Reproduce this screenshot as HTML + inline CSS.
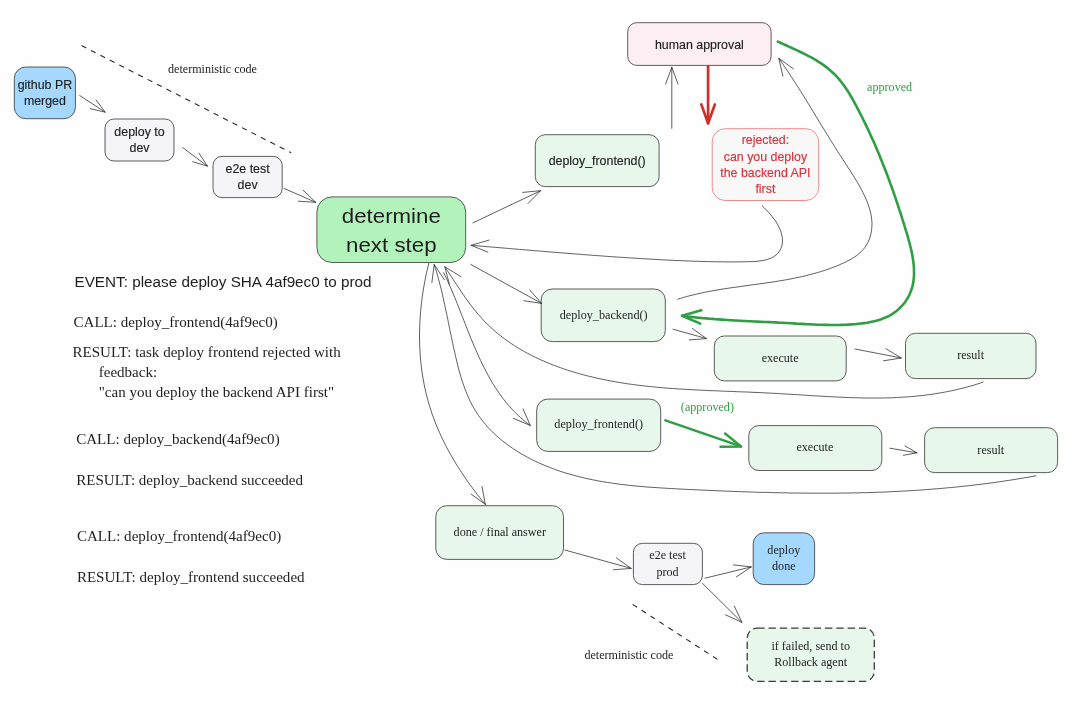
<!DOCTYPE html>
<html><head><meta charset="utf-8"><title>diagram</title>
<style>
html,body{margin:0;padding:0;background:#fefefe;}
body{width:1074px;height:707px;overflow:hidden;font-family:"Liberation Sans",sans-serif;}
svg{display:block;will-change:transform}
</style></head>
<body>
<svg width="1074" height="707" viewBox="0 0 1074 707">
<rect width="1074" height="707" fill="#fefefe"/>
<path d="M81.5 45.6 L291.2 152.8" fill="none" stroke="#2a2a2a" stroke-width="1.1" stroke-linecap="butt" stroke-linejoin="round" stroke-dasharray="5.3 5.3"/>
<path d="M632.6 604.4 L717.8 659.6" fill="none" stroke="#2a2a2a" stroke-width="1.1" stroke-linecap="butt" stroke-linejoin="round" stroke-dasharray="5.3 5.35"/>
<rect x="14.3" y="67" width="61.1" height="51.7" rx="11.5" ry="11.5" fill="#a5d8ff" stroke="#2a2a2a" stroke-width="0.75"/>
<rect x="105" y="119" width="69.0" height="42.0" rx="9" ry="9" fill="#f5f5f7" stroke="#2a2a2a" stroke-width="0.75"/>
<rect x="213" y="156.4" width="69.2" height="41.2" rx="9" ry="9" fill="#f5f5f7" stroke="#2a2a2a" stroke-width="0.75"/>
<rect x="316.9" y="196.9" width="148.8" height="65.6" rx="15" ry="15" fill="#b2f2bb" stroke="#2a2a2a" stroke-width="0.75"/>
<rect x="627.7" y="22.7" width="143.4" height="42.7" rx="9" ry="9" fill="#fdeef4" stroke="#2a2a2a" stroke-width="0.75"/>
<rect x="535.3" y="134.7" width="123.8" height="51.9" rx="10" ry="10" fill="#e7f7eb" stroke="#2a2a2a" stroke-width="0.75"/>
<rect x="712.2" y="128.7" width="106.5" height="71.8" rx="13" ry="13" fill="#f8f8f9" stroke="#e66a6a" stroke-width="0.75"/>
<rect x="541.2" y="289" width="124.1" height="52.6" rx="11" ry="11" fill="#e7f7eb" stroke="#2a2a2a" stroke-width="0.75"/>
<rect x="714.3" y="336" width="131.9" height="44.9" rx="10" ry="10" fill="#e7f7eb" stroke="#2a2a2a" stroke-width="0.75"/>
<rect x="905.5" y="333.3" width="130.5" height="45.3" rx="10" ry="10" fill="#e7f7eb" stroke="#2a2a2a" stroke-width="0.75"/>
<rect x="536.7" y="399.1" width="124.0" height="52.3" rx="11" ry="11" fill="#e7f7eb" stroke="#2a2a2a" stroke-width="0.75"/>
<rect x="748.8" y="425.6" width="133.0" height="44.9" rx="10" ry="10" fill="#e7f7eb" stroke="#2a2a2a" stroke-width="0.75"/>
<rect x="924.6" y="427.7" width="133.0" height="44.9" rx="10" ry="10" fill="#e7f7eb" stroke="#2a2a2a" stroke-width="0.75"/>
<rect x="435.8" y="505.7" width="127.7" height="53.7" rx="11" ry="11" fill="#e7f7eb" stroke="#2a2a2a" stroke-width="0.75"/>
<rect x="633.4" y="543.3" width="69.0" height="41.3" rx="9" ry="9" fill="#f5f5f7" stroke="#2a2a2a" stroke-width="0.75"/>
<rect x="753.2" y="532.8" width="61.4" height="51.8" rx="11" ry="11" fill="#a5d8ff" stroke="#2a2a2a" stroke-width="0.75"/>
<rect x="747.2" y="628.1" width="127.1" height="53.2" rx="10" ry="10" fill="#e7f7eb" stroke="#3c3c3c" stroke-width="1.3" stroke-dasharray="7.4 3.9"/>
<path d="M79.7 95.5 L105.2 112.2" fill="none" stroke="#2a2a2a" stroke-width="0.75" stroke-linecap="round" stroke-linejoin="round"/>
<path d="M90.4 108.7 L105.2 112.2 L96.1 100.0" fill="none" stroke="#2a2a2a" stroke-width="0.75" stroke-linecap="round" stroke-linejoin="round"/>
<path d="M182.7 147.6 L207.5 166.2" fill="none" stroke="#2a2a2a" stroke-width="0.75" stroke-linecap="round" stroke-linejoin="round"/>
<path d="M192.7 161.7 L207.5 166.2 L199.0 153.2" fill="none" stroke="#2a2a2a" stroke-width="0.75" stroke-linecap="round" stroke-linejoin="round"/>
<path d="M284.0 188.4 L315.7 202.3" fill="none" stroke="#2a2a2a" stroke-width="0.75" stroke-linecap="round" stroke-linejoin="round"/>
<path d="M298.4 201.2 L315.7 202.3 L303.2 190.3" fill="none" stroke="#2a2a2a" stroke-width="0.75" stroke-linecap="round" stroke-linejoin="round"/>
<path d="M472.9 222.9 L540.6 190.7" fill="none" stroke="#2a2a2a" stroke-width="0.75" stroke-linecap="round" stroke-linejoin="round"/>
<path d="M528.0 203.5 L540.6 190.7 L522.7 192.4" fill="none" stroke="#2a2a2a" stroke-width="0.75" stroke-linecap="round" stroke-linejoin="round"/>
<path d="M470.8 264.5 L541.6 303.4" fill="none" stroke="#2a2a2a" stroke-width="0.75" stroke-linecap="round" stroke-linejoin="round"/>
<path d="M523.8 300.7 L541.6 303.4 L529.7 289.9" fill="none" stroke="#2a2a2a" stroke-width="0.75" stroke-linecap="round" stroke-linejoin="round"/>
<path d="M671.8 128.3 L671.8 67.2" fill="none" stroke="#2a2a2a" stroke-width="0.75" stroke-linecap="round" stroke-linejoin="round"/>
<path d="M678.0 84.1 L671.8 67.2 L665.6 84.1" fill="none" stroke="#2a2a2a" stroke-width="0.75" stroke-linecap="round" stroke-linejoin="round"/>
<path d="M673.0 329.2 L706.5 338.6" fill="none" stroke="#2a2a2a" stroke-width="0.75" stroke-linecap="round" stroke-linejoin="round"/>
<path d="M689.2 339.9 L706.5 338.6 L692.4 328.5" fill="none" stroke="#2a2a2a" stroke-width="0.75" stroke-linecap="round" stroke-linejoin="round"/>
<path d="M855.0 349.0 L901.3 358.0" fill="none" stroke="#2a2a2a" stroke-width="0.75" stroke-linecap="round" stroke-linejoin="round"/>
<path d="M883.5 360.8 L901.3 358.0 L885.9 348.7" fill="none" stroke="#2a2a2a" stroke-width="0.75" stroke-linecap="round" stroke-linejoin="round"/>
<path d="M889.8 448.2 L917.0 452.8" fill="none" stroke="#2a2a2a" stroke-width="0.75" stroke-linecap="round" stroke-linejoin="round"/>
<path d="M903.4 455.3 L917.0 452.8 L905.0 446.0" fill="none" stroke="#2a2a2a" stroke-width="0.75" stroke-linecap="round" stroke-linejoin="round"/>
<path d="M564.8 550.0 L631.2 568.4" fill="none" stroke="#2a2a2a" stroke-width="0.75" stroke-linecap="round" stroke-linejoin="round"/>
<path d="M613.3 569.8 L631.2 568.4 L616.5 558.0" fill="none" stroke="#2a2a2a" stroke-width="0.75" stroke-linecap="round" stroke-linejoin="round"/>
<path d="M705.0 578.2 L751.3 566.9" fill="none" stroke="#2a2a2a" stroke-width="0.75" stroke-linecap="round" stroke-linejoin="round"/>
<path d="M736.3 576.9 L751.3 566.9 L733.4 564.9" fill="none" stroke="#2a2a2a" stroke-width="0.75" stroke-linecap="round" stroke-linejoin="round"/>
<path d="M702.5 583.4 L742.0 622.4" fill="none" stroke="#2a2a2a" stroke-width="0.75" stroke-linecap="round" stroke-linejoin="round"/>
<path d="M725.6 614.9 L742.0 622.4 L734.3 606.1" fill="none" stroke="#2a2a2a" stroke-width="0.75" stroke-linecap="round" stroke-linejoin="round"/>
<path d="M708.1 66.3 L708.1 123.2" fill="none" stroke="#cf2f2b" stroke-width="2.7" stroke-linecap="round" stroke-linejoin="round"/>
<path d="M701.3 104.4 L708.1 123.2 L714.9 104.4" fill="none" stroke="#cf2f2b" stroke-width="2.7" stroke-linecap="round" stroke-linejoin="round"/>
<path d="M665.4 420.4 L741.0 446.4" fill="none" stroke="#2f9e44" stroke-width="2.5" stroke-linecap="round" stroke-linejoin="round"/>
<path d="M720.5 446.8 L741.0 446.4 L725.1 433.5" fill="none" stroke="#2f9e44" stroke-width="2.5" stroke-linecap="round" stroke-linejoin="round"/>
<path d="M762.3 206.0 L764.2 207.8 L766.2 209.8 L768.3 212.0 L770.3 214.3 L772.4 216.8 L774.3 219.4 L776.2 222.1 L777.9 224.9 L779.3 227.8 L780.6 230.8 L781.5 233.8 L782.2 236.9 L782.5 239.9 L782.4 242.9 L781.9 245.8 L780.9 248.4 L779.6 250.9 L778.0 253.1 L776.1 255.0 L773.9 256.6 L771.5 257.9 L768.9 258.9 L766.2 259.8 L763.3 260.4 L760.2 260.9 L757.1 261.3 L753.9 261.5 L750.6 261.6 L747.4 261.7 L744.1 261.8 L740.9 261.8 L737.7 261.9 L734.6 261.9 L731.4 261.9 L728.3 261.9 L725.2 261.9 L722.1 261.8 L719.0 261.8 L715.9 261.8 L712.9 261.7 L709.8 261.6 L706.8 261.6 L703.8 261.5 L700.8 261.4 L697.8 261.3 L694.8 261.2 L691.8 261.1 L688.8 261.0 L685.9 260.9 L682.9 260.8 L679.9 260.6 L676.9 260.5 L673.9 260.4 L670.9 260.2 L667.9 260.1 L664.9 259.9 L661.9 259.8 L658.9 259.6 L655.9 259.4 L652.9 259.3 L649.9 259.1 L646.9 258.9 L643.8 258.8 L640.8 258.6 L637.8 258.4 L634.8 258.2 L631.7 258.0 L628.7 257.8 L625.7 257.6 L622.7 257.4 L619.6 257.2 L616.6 257.0 L613.6 256.8 L610.5 256.6 L607.5 256.4 L604.5 256.2 L601.4 255.9 L598.4 255.7 L595.4 255.5 L592.3 255.3 L589.3 255.0 L586.2 254.8 L583.2 254.6 L580.1 254.3 L577.1 254.1 L574.1 253.9 L571.0 253.6 L568.0 253.4 L564.9 253.1 L561.9 252.9 L558.9 252.7 L555.8 252.4 L552.8 252.2 L549.7 251.9 L546.7 251.7 L543.7 251.4 L540.6 251.2 L537.6 250.9 L534.5 250.7 L531.5 250.4 L528.5 250.1 L525.4 249.9 L522.4 249.6 L519.4 249.4 L516.3 249.1 L513.3 248.9 L510.3 248.6 L507.3 248.3 L504.2 248.1 L501.2 247.8 L498.2 247.6 L495.2 247.3 L492.2 247.1 L489.1 246.8 L486.1 246.6 L483.1 246.3 L480.1 246.1 L477.1 245.8 L474.1 245.6 L471.1 245.3" fill="none" stroke="#2a2a2a" stroke-width="0.75" stroke-linecap="round" stroke-linejoin="round"/>
<path d="M489.1 240.1 L471.1 245.3 L487.9 252.2" fill="none" stroke="#2a2a2a" stroke-width="0.75" stroke-linecap="round" stroke-linejoin="round"/>
<path d="M677.8 299.2 L680.7 298.3 L683.6 297.4 L686.5 296.6 L689.4 295.8 L692.4 295.1 L695.3 294.4 L698.2 293.7 L701.2 293.1 L704.1 292.4 L707.1 291.8 L710.1 291.3 L713.0 290.7 L716.0 290.2 L719.0 289.7 L721.9 289.2 L724.9 288.7 L727.9 288.3 L730.9 287.8 L733.9 287.4 L736.9 287.0 L739.9 286.6 L742.9 286.2 L745.9 285.7 L748.9 285.3 L751.9 284.9 L754.9 284.5 L757.9 284.1 L760.9 283.7 L763.9 283.3 L766.9 282.8 L769.9 282.4 L772.9 282.0 L775.8 281.5 L778.8 281.0 L781.8 280.5 L784.8 280.0 L787.8 279.5 L790.8 278.9 L793.8 278.3 L796.7 277.7 L799.7 277.1 L802.7 276.4 L805.7 275.7 L808.6 275.0 L811.6 274.2 L814.5 273.4 L817.5 272.6 L820.4 271.7 L823.3 270.8 L826.3 269.8 L829.2 268.8 L832.1 267.7 L835.0 266.6 L837.9 265.5 L840.8 264.2 L843.6 263.0 L846.4 261.6 L849.1 260.2 L851.8 258.7 L854.3 257.1 L856.8 255.4 L859.0 253.6 L861.2 251.6 L863.1 249.6 L864.9 247.4 L866.5 245.0 L867.8 242.6 L869.0 240.0 L870.0 237.4 L870.7 234.7 L871.3 231.9 L871.7 229.2 L871.9 226.3 L872.0 223.5 L871.8 220.7 L871.5 217.9 L871.1 215.1 L870.5 212.3 L869.7 209.4 L868.9 206.6 L867.9 203.8 L866.8 200.9 L865.6 198.1 L864.3 195.3 L862.9 192.5 L861.5 189.7 L860.0 186.9 L858.4 184.1 L856.7 181.3 L855.1 178.5 L853.4 175.8 L851.6 173.0 L849.9 170.3 L848.1 167.6 L846.4 164.9 L844.6 162.2 L842.9 159.6 L841.2 156.9 L839.5 154.3 L837.8 151.7 L836.2 149.1 L834.6 146.5 L833.0 143.9 L831.4 141.4 L829.8 138.9 L828.3 136.3 L826.7 133.8 L825.2 131.3 L823.7 128.8 L822.1 126.3 L820.6 123.9 L819.1 121.4 L817.6 118.9 L816.1 116.5 L814.6 114.0 L813.1 111.5 L811.6 109.1 L810.1 106.6 L808.6 104.1 L807.1 101.7 L805.6 99.2 L804.0 96.7 L802.5 94.2 L800.9 91.7 L799.4 89.2 L797.8 86.7 L796.2 84.2 L794.5 81.7 L792.9 79.2 L791.2 76.6 L789.5 74.0 L787.8 71.5 L786.1 68.9 L784.3 66.3 L782.5 63.6 L780.7 61.0 L778.8 58.3" fill="none" stroke="#2a2a2a" stroke-width="0.75" stroke-linecap="round" stroke-linejoin="round"/>
<path d="M793.5 68.9 L778.8 58.3 L782.9 76.1" fill="none" stroke="#2a2a2a" stroke-width="0.75" stroke-linecap="round" stroke-linejoin="round"/>
<path d="M777.8 41.6 L780.5 42.8 L783.3 44.1 L786.0 45.3 L788.8 46.6 L791.5 47.8 L794.3 49.1 L797.1 50.4 L799.9 51.7 L802.6 53.0 L805.4 54.4 L808.1 55.8 L810.8 57.2 L813.4 58.7 L816.0 60.2 L818.6 61.8 L821.1 63.4 L823.6 65.1 L826.0 66.9 L828.3 68.7 L830.6 70.7 L832.8 72.7 L835.0 74.7 L837.0 76.9 L839.0 79.1 L840.9 81.5 L842.7 83.8 L844.5 86.3 L846.2 88.8 L847.9 91.3 L849.5 93.9 L851.0 96.5 L852.6 99.2 L854.0 101.8 L855.5 104.5 L856.9 107.2 L858.3 109.9 L859.7 112.6 L861.1 115.3 L862.5 118.0 L863.8 120.7 L865.1 123.4 L866.4 126.1 L867.7 128.8 L869.0 131.5 L870.2 134.2 L871.4 136.9 L872.7 139.6 L873.9 142.3 L875.1 145.0 L876.2 147.7 L877.4 150.5 L878.6 153.2 L879.7 155.9 L880.8 158.7 L881.9 161.4 L883.0 164.2 L884.1 166.9 L885.2 169.7 L886.3 172.5 L887.3 175.3 L888.4 178.1 L889.4 180.9 L890.4 183.7 L891.5 186.5 L892.5 189.4 L893.5 192.2 L894.5 195.1 L895.5 198.0 L896.4 200.8 L897.4 203.7 L898.4 206.7 L899.3 209.6 L900.3 212.5 L901.3 215.5 L902.2 218.5 L903.1 221.5 L904.1 224.5 L905.0 227.5 L905.9 230.6 L906.9 233.6 L907.8 236.7 L908.6 239.8 L909.5 242.8 L910.2 245.9 L911.0 249.0 L911.7 252.1 L912.3 255.1 L912.8 258.2 L913.2 261.2 L913.6 264.2 L913.9 267.2 L914.0 270.1 L914.0 273.1 L914.0 276.0 L913.7 278.8 L913.4 281.6 L912.9 284.4 L912.2 287.1 L911.4 289.8 L910.4 292.4 L909.3 295.0 L908.0 297.5 L906.5 299.9 L905.0 302.2 L903.2 304.4 L901.3 306.5 L899.3 308.5 L897.2 310.4 L894.9 312.2 L892.5 313.8 L890.1 315.3 L887.5 316.6 L884.8 317.8 L882.0 318.9 L879.1 319.9 L876.2 320.7 L873.2 321.4 L870.2 322.1 L867.1 322.7 L864.0 323.1 L860.9 323.5 L857.7 323.9 L854.6 324.2 L851.5 324.4 L848.3 324.6 L845.2 324.8 L842.1 324.9 L839.0 325.0 L835.9 325.0 L832.8 325.0 L829.8 325.0 L826.7 324.9 L823.6 324.9 L820.6 324.8 L817.5 324.7 L814.5 324.5 L811.4 324.4 L808.4 324.2 L805.4 324.1 L802.3 323.9 L799.3 323.7 L796.3 323.6 L793.3 323.4 L790.3 323.2 L787.3 323.0 L784.3 322.9 L781.3 322.7 L778.3 322.6 L775.3 322.4 L772.3 322.3 L769.3 322.1 L766.3 322.0 L763.3 321.9 L760.3 321.7 L757.4 321.6 L754.4 321.5 L751.4 321.3 L748.4 321.2 L745.4 321.0 L742.4 320.9 L739.4 320.7 L736.4 320.5 L733.5 320.4 L730.5 320.2 L727.5 320.0 L724.5 319.8 L721.5 319.6 L718.5 319.4 L715.5 319.2 L712.5 318.9 L709.4 318.7 L706.4 318.4 L703.4 318.2 L700.4 317.9 L697.3 317.6 L694.3 317.2 L691.3 316.9 L688.2 316.6 L685.2 316.2 L682.1 315.8" fill="none" stroke="#2f9e44" stroke-width="2.6" stroke-linecap="round" stroke-linejoin="round"/>
<path d="M701.3 310.3 L682.1 315.8 L700.3 323.6" fill="none" stroke="#2f9e44" stroke-width="2.6" stroke-linecap="round" stroke-linejoin="round"/>
<path d="M983.1 382.1 L980.1 383.1 L977.1 384.1 L974.2 385.0 L971.2 385.9 L968.2 386.7 L965.2 387.5 L962.2 388.3 L959.2 389.0 L956.3 389.7 L953.3 390.4 L950.3 391.0 L947.3 391.6 L944.3 392.2 L941.4 392.7 L938.4 393.2 L935.4 393.7 L932.4 394.2 L929.4 394.6 L926.4 395.0 L923.5 395.4 L920.5 395.7 L917.5 396.0 L914.5 396.3 L911.5 396.6 L908.5 396.8 L905.6 397.0 L902.6 397.2 L899.6 397.4 L896.6 397.5 L893.6 397.7 L890.6 397.8 L887.6 397.9 L884.6 397.9 L881.7 398.0 L878.7 398.0 L875.7 398.0 L872.7 398.0 L869.7 398.0 L866.7 398.0 L863.7 398.0 L860.7 397.9 L857.7 397.8 L854.7 397.7 L851.7 397.7 L848.7 397.5 L845.7 397.4 L842.7 397.3 L839.7 397.2 L836.7 397.0 L833.7 396.9 L830.7 396.7 L827.7 396.6 L824.7 396.4 L821.7 396.2 L818.7 396.0 L815.6 395.9 L812.6 395.7 L809.6 395.5 L806.6 395.3 L803.6 395.1 L800.6 394.9 L797.5 394.7 L794.5 394.5 L791.5 394.3 L788.5 394.2 L785.4 394.0 L782.4 393.8 L779.4 393.6 L776.3 393.4 L773.3 393.3 L770.2 393.1 L767.2 393.0 L764.2 392.8 L761.1 392.7 L758.1 392.5 L755.0 392.4 L752.0 392.3 L748.9 392.1 L745.9 392.0 L742.8 391.9 L739.8 391.8 L736.7 391.7 L733.7 391.5 L730.6 391.4 L727.6 391.3 L724.5 391.2 L721.5 391.1 L718.4 390.9 L715.4 390.8 L712.3 390.7 L709.2 390.6 L706.2 390.4 L703.1 390.3 L700.1 390.1 L697.1 390.0 L694.0 389.8 L691.0 389.7 L687.9 389.5 L684.9 389.3 L681.8 389.1 L678.8 389.0 L675.8 388.7 L672.7 388.5 L669.7 388.3 L666.7 388.1 L663.6 387.8 L660.6 387.6 L657.6 387.3 L654.6 387.0 L651.6 386.7 L648.6 386.4 L645.6 386.1 L642.5 385.7 L639.5 385.4 L636.6 385.0 L633.6 384.6 L630.6 384.2 L627.6 383.8 L624.6 383.3 L621.6 382.8 L618.7 382.4 L615.7 381.9 L612.7 381.3 L609.8 380.8 L606.8 380.2 L603.9 379.6 L601.0 379.0 L598.0 378.4 L595.1 377.7 L592.2 377.0 L589.3 376.3 L586.3 375.6 L583.4 374.8 L580.5 374.0 L577.7 373.2 L574.8 372.4 L571.9 371.5 L569.0 370.6 L566.2 369.7 L563.3 368.7 L560.5 367.7 L557.6 366.7 L554.8 365.6 L552.0 364.6 L549.2 363.4 L546.4 362.3 L543.7 361.1 L540.9 359.9 L538.2 358.6 L535.4 357.3 L532.7 356.0 L530.1 354.6 L527.4 353.2 L524.8 351.8 L522.2 350.3 L519.6 348.8 L517.0 347.3 L514.5 345.7 L511.9 344.0 L509.5 342.3 L507.0 340.6 L504.6 338.9 L502.2 337.1 L499.8 335.2 L497.5 333.3 L495.2 331.4 L492.9 329.4 L490.7 327.4 L488.5 325.3 L486.3 323.2 L484.2 321.0 L482.1 318.8 L480.1 316.5 L478.1 314.2 L476.1 311.8 L474.2 309.4 L472.3 307.0 L470.4 304.6 L468.6 302.1 L466.8 299.6 L465.0 297.1 L463.2 294.5 L461.5 292.0 L459.8 289.4 L458.1 286.9 L456.4 284.3 L454.7 281.8 L453.0 279.2 L451.4 276.7 L449.7 274.2 L448.1 271.7 L446.4 269.2 L444.8 266.8" fill="none" stroke="#2a2a2a" stroke-width="0.75" stroke-linecap="round" stroke-linejoin="round"/>
<path d="M460.9 276.6 L444.8 266.8 L449.4 284.3" fill="none" stroke="#2a2a2a" stroke-width="0.75" stroke-linecap="round" stroke-linejoin="round"/>
<path d="M1036.0 475.8 L1033.0 476.3 L1030.0 476.9 L1026.9 477.4 L1023.9 477.9 L1020.9 478.4 L1017.9 478.9 L1014.9 479.4 L1011.8 479.9 L1008.8 480.4 L1005.8 480.8 L1002.8 481.3 L999.8 481.7 L996.8 482.1 L993.8 482.6 L990.8 483.0 L987.8 483.4 L984.7 483.8 L981.7 484.1 L978.7 484.5 L975.7 484.9 L972.7 485.2 L969.7 485.6 L966.7 485.9 L963.7 486.2 L960.7 486.6 L957.7 486.9 L954.7 487.2 L951.7 487.5 L948.7 487.7 L945.7 488.0 L942.7 488.3 L939.7 488.6 L936.7 488.8 L933.7 489.0 L930.7 489.3 L927.7 489.5 L924.7 489.7 L921.7 490.0 L918.7 490.2 L915.7 490.4 L912.7 490.5 L909.7 490.7 L906.7 490.9 L903.7 491.1 L900.7 491.2 L897.8 491.4 L894.8 491.5 L891.8 491.7 L888.8 491.8 L885.8 492.0 L882.8 492.1 L879.8 492.2 L876.8 492.3 L873.8 492.4 L870.8 492.5 L867.8 492.6 L864.8 492.7 L861.8 492.7 L858.8 492.8 L855.8 492.9 L852.8 492.9 L849.8 493.0 L846.8 493.0 L843.8 493.1 L840.8 493.1 L837.8 493.1 L834.8 493.2 L831.8 493.2 L828.8 493.2 L825.8 493.2 L822.8 493.2 L819.8 493.2 L816.8 493.2 L813.8 493.2 L810.8 493.2 L807.8 493.2 L804.8 493.1 L801.8 493.1 L798.7 493.1 L795.7 493.0 L792.7 493.0 L789.7 493.0 L786.7 492.9 L783.7 492.8 L780.7 492.8 L777.7 492.7 L774.7 492.7 L771.6 492.6 L768.6 492.5 L765.6 492.4 L762.6 492.4 L759.6 492.3 L756.5 492.2 L753.5 492.1 L750.5 492.0 L747.5 491.9 L744.4 491.8 L741.4 491.7 L738.4 491.6 L735.4 491.5 L732.3 491.4 L729.3 491.2 L726.3 491.1 L723.2 491.0 L720.2 490.9 L717.2 490.7 L714.1 490.6 L711.1 490.5 L708.0 490.3 L705.0 490.2 L701.9 490.1 L698.9 489.9 L695.8 489.8 L692.8 489.6 L689.7 489.5 L686.7 489.4 L683.6 489.2 L680.6 489.1 L677.5 488.9 L674.5 488.7 L671.4 488.6 L668.3 488.4 L665.3 488.2 L662.2 488.0 L659.2 487.8 L656.1 487.6 L653.1 487.4 L650.0 487.2 L647.0 487.0 L643.9 486.7 L640.9 486.5 L637.8 486.2 L634.8 485.9 L631.8 485.6 L628.7 485.3 L625.7 484.9 L622.7 484.6 L619.7 484.2 L616.7 483.8 L613.7 483.4 L610.7 482.9 L607.7 482.5 L604.7 482.0 L601.7 481.5 L598.7 481.0 L595.8 480.4 L592.8 479.8 L589.9 479.2 L586.9 478.6 L584.0 477.9 L581.1 477.2 L578.2 476.5 L575.3 475.7 L572.4 474.9 L569.5 474.1 L566.6 473.3 L563.8 472.4 L560.9 471.5 L558.1 470.5 L555.3 469.5 L552.5 468.5 L549.7 467.4 L546.9 466.3 L544.1 465.2 L541.4 464.0 L538.6 462.7 L535.9 461.5 L533.2 460.2 L530.5 458.8 L527.8 457.4 L525.2 456.0 L522.6 454.5 L520.0 453.0 L517.4 451.4 L514.9 449.8 L512.4 448.1 L509.9 446.4 L507.5 444.7 L505.1 442.9 L502.8 441.1 L500.5 439.2 L498.2 437.3 L496.0 435.3 L493.8 433.3 L491.7 431.2 L489.6 429.1 L487.6 426.9 L485.7 424.7 L483.8 422.4 L481.9 420.1 L480.1 417.7 L478.4 415.3 L476.8 412.9 L475.2 410.4 L473.7 407.8 L472.2 405.2 L470.8 402.5 L469.5 399.8 L468.3 397.1 L467.1 394.3 L465.9 391.4 L464.8 388.6 L463.8 385.7 L462.8 382.8 L461.8 379.8 L460.9 376.9 L460.1 373.9 L459.2 370.9 L458.4 367.9 L457.6 364.8 L456.9 361.8 L456.2 358.8 L455.4 355.7 L454.8 352.7 L454.1 349.6 L453.4 346.6 L452.8 343.6 L452.1 340.6 L451.5 337.5 L450.9 334.5 L450.2 331.5 L449.6 328.5 L449.0 325.5 L448.4 322.5 L447.8 319.5 L447.2 316.5 L446.6 313.5 L445.9 310.6 L445.3 307.6 L444.7 304.6 L444.0 301.7 L443.4 298.8 L442.7 295.8 L442.1 292.9 L441.4 290.0 L440.6 287.1 L439.9 284.3 L439.2 281.4 L438.4 278.6 L437.6 275.7 L436.8 272.9 L436.0 270.1 L435.1 267.3 L434.2 264.5" fill="none" stroke="#2a2a2a" stroke-width="0.75" stroke-linecap="round" stroke-linejoin="round"/>
<path d="M431.9 282.4 L434.2 264.5 L444.4 279.8" fill="none" stroke="#2a2a2a" stroke-width="0.75" stroke-linecap="round" stroke-linejoin="round"/>
<path d="M443.7 272.8 L445.0 275.5 L446.3 278.2 L447.6 280.9 L448.8 283.7 L450.0 286.4 L451.3 289.2 L452.5 292.0 L453.6 294.8 L454.8 297.7 L456.0 300.5 L457.1 303.3 L458.3 306.2 L459.4 309.1 L460.5 311.9 L461.6 314.8 L462.8 317.7 L463.9 320.6 L465.0 323.5 L466.2 326.4 L467.3 329.2 L468.4 332.1 L469.6 335.0 L470.7 337.9 L471.9 340.7 L473.1 343.6 L474.3 346.5 L475.5 349.3 L476.8 352.1 L478.0 354.9 L479.3 357.8 L480.6 360.5 L481.9 363.3 L483.3 366.1 L484.7 368.8 L486.1 371.5 L487.5 374.2 L489.0 376.9 L490.5 379.5 L492.0 382.2 L493.6 384.8 L495.2 387.3 L496.9 389.9 L498.6 392.4 L500.3 394.9 L502.1 397.3 L504.0 399.7 L505.9 402.1 L507.8 404.4 L509.8 406.7 L511.8 409.0 L513.9 411.2 L516.1 413.4 L518.3 415.5 L520.6 417.6 L522.9 419.7 L525.3 421.7 L527.8 423.6 L530.3 425.5" fill="none" stroke="#2a2a2a" stroke-width="0.75" stroke-linecap="round" stroke-linejoin="round"/>
<path d="M513.3 418.3 L530.3 425.5 L523.0 408.9" fill="none" stroke="#2a2a2a" stroke-width="0.75" stroke-linecap="round" stroke-linejoin="round"/>
<path d="M428.8 263.3 L428.1 266.3 L427.4 269.3 L426.7 272.2 L426.0 275.2 L425.4 278.2 L424.8 281.3 L424.3 284.3 L423.7 287.3 L423.2 290.3 L422.8 293.3 L422.3 296.4 L421.9 299.4 L421.6 302.4 L421.2 305.5 L420.9 308.5 L420.6 311.6 L420.4 314.6 L420.1 317.7 L420.0 320.7 L419.8 323.8 L419.7 326.8 L419.6 329.9 L419.5 332.9 L419.5 335.9 L419.5 339.0 L419.6 342.0 L419.7 345.1 L419.8 348.1 L420.0 351.1 L420.2 354.1 L420.4 357.2 L420.6 360.2 L420.9 363.2 L421.3 366.2 L421.6 369.2 L422.1 372.2 L422.5 375.2 L423.0 378.1 L423.5 381.1 L424.1 384.1 L424.7 387.0 L425.3 389.9 L426.0 392.9 L426.7 395.8 L427.5 398.7 L428.2 401.6 L429.1 404.5 L430.0 407.4 L430.9 410.2 L431.8 413.1 L432.8 415.9 L433.9 418.7 L434.9 421.6 L436.0 424.4 L437.2 427.1 L438.3 429.9 L439.6 432.7 L440.8 435.4 L442.1 438.2 L443.4 440.9 L444.8 443.6 L446.1 446.3 L447.5 449.0 L449.0 451.6 L450.5 454.3 L452.0 456.9 L453.5 459.6 L455.1 462.2 L456.6 464.8 L458.3 467.4 L459.9 469.9 L461.6 472.5 L463.3 475.0 L465.0 477.6 L466.7 480.1 L468.5 482.6 L470.3 485.1 L472.1 487.5 L473.9 490.0 L475.7 492.4 L477.6 494.9 L479.5 497.3 L481.4 499.7 L483.4 502.0 L485.3 504.4" fill="none" stroke="#2a2a2a" stroke-width="0.75" stroke-linecap="round" stroke-linejoin="round"/>
<path d="M471.3 494.2 L485.3 504.4 L482.0 486.6" fill="none" stroke="#2a2a2a" stroke-width="0.75" stroke-linecap="round" stroke-linejoin="round"/>
<!--TEXTSTART--><g opacity="0.999">
<text x="44.9" y="88.5" font-family="&quot;Liberation Sans&quot;, sans-serif" font-size="12.4" fill="#1e1e1e" text-anchor="middle" stroke="#1e1e1e" stroke-width="0.15">github PR</text>
<text x="44.9" y="105.2" font-family="&quot;Liberation Sans&quot;, sans-serif" font-size="12.4" fill="#1e1e1e" text-anchor="middle" stroke="#1e1e1e" stroke-width="0.15">merged</text>
<text x="139.5" y="135.8" font-family="&quot;Liberation Sans&quot;, sans-serif" font-size="12.4" fill="#1e1e1e" text-anchor="middle" stroke="#1e1e1e" stroke-width="0.15">deploy to</text>
<text x="139.5" y="152.2" font-family="&quot;Liberation Sans&quot;, sans-serif" font-size="12.4" fill="#1e1e1e" text-anchor="middle" stroke="#1e1e1e" stroke-width="0.15">dev</text>
<text x="247.6" y="172.9" font-family="&quot;Liberation Sans&quot;, sans-serif" font-size="12.4" fill="#1e1e1e" text-anchor="middle" stroke="#1e1e1e" stroke-width="0.15">e2e test</text>
<text x="247.6" y="189.2" font-family="&quot;Liberation Sans&quot;, sans-serif" font-size="12.4" fill="#1e1e1e" text-anchor="middle" stroke="#1e1e1e" stroke-width="0.15">dev</text>
<text x="391.3" y="222.6" font-family="&quot;Liberation Sans&quot;, sans-serif" font-size="20.8" fill="#1e1e1e" text-anchor="middle" textLength="99" lengthAdjust="spacingAndGlyphs">determine</text>
<text x="391.3" y="251.6" font-family="&quot;Liberation Sans&quot;, sans-serif" font-size="20.8" fill="#1e1e1e" text-anchor="middle" textLength="90.5" lengthAdjust="spacingAndGlyphs">next step</text>
<text x="699.4" y="48.7" font-family="&quot;Liberation Sans&quot;, sans-serif" font-size="12.4" fill="#1e1e1e" text-anchor="middle" stroke="#1e1e1e" stroke-width="0.15">human approval</text>
<text x="597.2" y="165.1" font-family="&quot;Liberation Sans&quot;, sans-serif" font-size="12.4" fill="#1e1e1e" text-anchor="middle" stroke="#1e1e1e" stroke-width="0.15">deploy_frontend()</text>
<text x="765.4" y="144.2" font-family="&quot;Liberation Sans&quot;, sans-serif" font-size="12.4" fill="#d6333b" text-anchor="middle" stroke="#d6333b" stroke-width="0.15">rejected:</text>
<text x="765.4" y="160.8" font-family="&quot;Liberation Sans&quot;, sans-serif" font-size="12.4" fill="#d6333b" text-anchor="middle" stroke="#d6333b" stroke-width="0.15">can you deploy</text>
<text x="765.4" y="177.3" font-family="&quot;Liberation Sans&quot;, sans-serif" font-size="12.4" fill="#d6333b" text-anchor="middle" stroke="#d6333b" stroke-width="0.15">the backend API</text>
<text x="765.4" y="193.3" font-family="&quot;Liberation Sans&quot;, sans-serif" font-size="12.4" fill="#d6333b" text-anchor="middle" stroke="#d6333b" stroke-width="0.15">first</text>
<text x="74.5" y="286.7" font-family="&quot;Liberation Sans&quot;, sans-serif" font-size="15.2" fill="#1e1e1e" text-anchor="start" textLength="297" lengthAdjust="spacingAndGlyphs">EVENT: please deploy SHA 4af9ec0 to prod</text>
<text x="73.5" y="326.9" font-family="&quot;Liberation Serif&quot;, serif" font-size="15.05" fill="#1e1e1e" text-anchor="start">CALL: deploy_frontend(4af9ec0)</text>
<text x="72.5" y="357.2" font-family="&quot;Liberation Serif&quot;, serif" font-size="15.05" fill="#1e1e1e" text-anchor="start">RESULT: task deploy frontend rejected with</text>
<text x="98.7" y="376.9" font-family="&quot;Liberation Serif&quot;, serif" font-size="15.05" fill="#1e1e1e" text-anchor="start">feedback:</text>
<text x="98.7" y="397.4" font-family="&quot;Liberation Serif&quot;, serif" font-size="15.05" fill="#1e1e1e" text-anchor="start">&quot;can you deploy the backend API first&quot;</text>
<text x="76.2" y="444.4" font-family="&quot;Liberation Serif&quot;, serif" font-size="15.05" fill="#1e1e1e" text-anchor="start">CALL: deploy_backend(4af9ec0)</text>
<text x="76.2" y="484.6" font-family="&quot;Liberation Serif&quot;, serif" font-size="15.05" fill="#1e1e1e" text-anchor="start">RESULT: deploy_backend succeeded</text>
<text x="76.9" y="540.9" font-family="&quot;Liberation Serif&quot;, serif" font-size="15.05" fill="#1e1e1e" text-anchor="start">CALL: deploy_frontend(4af9ec0)</text>
<text x="76.9" y="582.1" font-family="&quot;Liberation Serif&quot;, serif" font-size="15.05" fill="#1e1e1e" text-anchor="start">RESULT: deploy_frontend succeeded</text>
<text x="212.5" y="73" font-family="&quot;Liberation Serif&quot;, serif" font-size="12.1" fill="#1e1e1e" text-anchor="middle">deterministic code</text>
<text x="628.9" y="659" font-family="&quot;Liberation Serif&quot;, serif" font-size="12.1" fill="#1e1e1e" text-anchor="middle">deterministic code</text>
<text x="889.6" y="90.7" font-family="&quot;Liberation Serif&quot;, serif" font-size="12.1" fill="#2f9e44" text-anchor="middle">approved</text>
<text x="707.4" y="411.3" font-family="&quot;Liberation Serif&quot;, serif" font-size="12.1" fill="#2f9e44" text-anchor="middle">(approved)</text>
<text x="603.7" y="318.8" font-family="&quot;Liberation Serif&quot;, serif" font-size="12.2" fill="#1e1e1e" text-anchor="middle">deploy_backend()</text>
<text x="598.7" y="428.3" font-family="&quot;Liberation Serif&quot;, serif" font-size="12.2" fill="#1e1e1e" text-anchor="middle">deploy_frontend()</text>
<text x="780.1" y="361.7" font-family="&quot;Liberation Serif&quot;, serif" font-size="12.1" fill="#1e1e1e" text-anchor="middle">execute</text>
<text x="970.6" y="359.3" font-family="&quot;Liberation Serif&quot;, serif" font-size="12.1" fill="#1e1e1e" text-anchor="middle">result</text>
<text x="814.9" y="451.2" font-family="&quot;Liberation Serif&quot;, serif" font-size="12.1" fill="#1e1e1e" text-anchor="middle">execute</text>
<text x="990.8" y="454" font-family="&quot;Liberation Serif&quot;, serif" font-size="12.1" fill="#1e1e1e" text-anchor="middle">result</text>
<text x="499.8" y="535.9" font-family="&quot;Liberation Serif&quot;, serif" font-size="12.1" fill="#1e1e1e" text-anchor="middle">done / final answer</text>
<text x="667.6" y="559.3" font-family="&quot;Liberation Serif&quot;, serif" font-size="12.1" fill="#1e1e1e" text-anchor="middle">e2e test</text>
<text x="667.6" y="575.8" font-family="&quot;Liberation Serif&quot;, serif" font-size="12.1" fill="#1e1e1e" text-anchor="middle">prod</text>
<text x="783.8" y="553.8" font-family="&quot;Liberation Serif&quot;, serif" font-size="12.1" fill="#1e1e1e" text-anchor="middle">deploy</text>
<text x="783.8" y="570.0" font-family="&quot;Liberation Serif&quot;, serif" font-size="12.1" fill="#1e1e1e" text-anchor="middle">done</text>
<text x="810.7" y="649.5" font-family="&quot;Liberation Serif&quot;, serif" font-size="12.1" fill="#1e1e1e" text-anchor="middle">if failed, send to</text>
<text x="810.7" y="666.0" font-family="&quot;Liberation Serif&quot;, serif" font-size="12.1" fill="#1e1e1e" text-anchor="middle">Rollback agent</text>
</g>
</svg>
</body></html>
